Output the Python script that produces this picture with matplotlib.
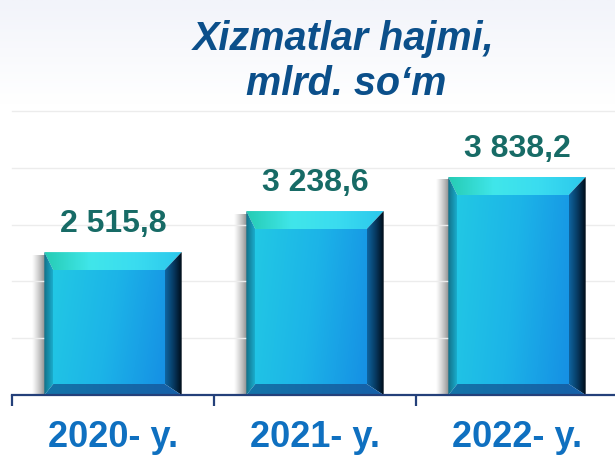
import matplotlib.pyplot as plt
import numpy as np
from matplotlib.patches import Polygon
from matplotlib.colors import LinearSegmentedColormap

years = ['2020- y.', '2021- y.', '2022- y.']
values = [2515.8, 3238.6, 3838.2]
value_labels = ['2 515,8', '3 238,6', '3 838,2']
title_lines = ['Xizmatlar hajmi,', 'mlrd. so\u2018m']

W, H = 615, 458
fig = plt.figure(figsize=(W / 100, H / 100), dpi=100)

# faint bluish wash at the top of the slide
bg = fig.add_axes([0, 0, 1, 1], zorder=-5)
g = np.linspace(0, 1, 200).reshape(-1, 1)
bg_cmap = LinearSegmentedColormap.from_list(
    'bg', [(0, '#f2f4fa'), (0.22, '#ffffff'), (1, '#ffffff')])
bg.imshow(g, cmap=bg_cmap, aspect='auto', extent=[0, 1, 1, 0])
bg.axis('off')

ax = fig.add_axes([12 / W, 63 / H, 606 / W, 284 / H])
ax.patch.set_alpha(0)
ax.set_xlim(-0.5, 2.5)
ax.set_ylim(0, 5000)
x = np.arange(len(years))

for s in ['top', 'right', 'left']:
    ax.spines[s].set_visible(False)
ax.spines['bottom'].set_color('#24407a')
ax.spines['bottom'].set_linewidth(1.6)
ax.spines['bottom'].set_zorder(6)

ax.set_yticks([1000, 2000, 3000, 4000, 5000])
ax.tick_params(axis='y', length=0, labelleft=False)
ax.grid(axis='y', color='#ececec', linewidth=1)
for gl in ax.get_ygridlines():
    gl.set_clip_on(False)

ax.set_xticks(x)
ax.set_xticklabels([])
ax.tick_params(axis='x', which='major', length=0)
ax.set_xticks(np.arange(len(years) + 1) - 0.5, minor=True)
ax.tick_params(axis='x', which='minor', length=8, width=1.6, color='#24407a', direction='out')

bars = ax.bar(x, values, width=0.68, color='none', zorder=2)

# pixel -> data conversion for bevel sizes
ax_w_px = 606
ax_h_px = 284
px = 3.0 / ax_w_px
py = 5000.0 / ax_h_px


def clip_img(data, extent, cmap, poly, z):
    im = ax.imshow(data, cmap=cmap, extent=extent, aspect='auto',
                   origin='lower', zorder=z, interpolation='bilinear')
    p = Polygon(poly, closed=True, facecolor='none', edgecolor='none')
    ax.add_patch(p)
    im.set_clip_path(p)


face_cmap = LinearSegmentedColormap.from_list('face', ['#22c8e4', '#1cb4e8', '#1690e4'])
top_cmap = LinearSegmentedColormap.from_list('top', ['#26ccb4', '#40e6ea', '#3adcf0', '#2cc8ec'])
right_cmap = LinearSegmentedColormap.from_list('right', ['#0f64a0', '#073a62', '#000c18'])
left_cmap = LinearSegmentedColormap.from_list('left', ['#127088', '#1aaccc'])
bottom_cmap = LinearSegmentedColormap.from_list('bot', ['#1474a8', '#1660a8'])
shadow_cmap = LinearSegmentedColormap.from_list(
    'sh', [(0.6, 0.6, 0.6, 0.0), (0.45, 0.45, 0.45, 0.8)])

for rect in bars:
    x0 = rect.get_x()
    x1 = x0 + rect.get_width()
    h = rect.get_height()
    t, r, b, l = 18 * py, 17 * px, 11 * py, 9 * px

    # soft grey shadow on the left side
    sh = np.linspace(0, 1, 50).reshape(1, -1)
    ax.imshow(sh, cmap=shadow_cmap, extent=[x0 - 12 * px, x0 + 1 * px, 0, h - 3 * py],
              aspect='auto', origin='lower', zorder=1, interpolation='bilinear')

    # front face
    fx = np.linspace(0, 1, 80)
    fy = np.linspace(0, 1, 80)
    face = fx[None, :] * 0.85 + (1 - fy[:, None]) * 0.15
    clip_img(face, [x0 + l, x1 - r, b, h - t], face_cmap,
             [(x0 + l, b), (x1 - r, b), (x1 - r, h - t), (x0 + l, h - t)], 3)

    # top bevel
    tg = np.linspace(0, 1, 80).reshape(1, -1)
    clip_img(tg, [x0, x1, h - t, h], top_cmap,
             [(x0, h), (x1, h), (x1 - r, h - t), (x0 + l, h - t)], 3)

    # right bevel
    rg = np.linspace(0, 1, 60).reshape(1, -1)
    clip_img(rg, [x1 - r, x1, 0, h], right_cmap,
             [(x1, h), (x1, 0), (x1 - r, b), (x1 - r, h - t)], 3)

    # left bevel
    lg = np.linspace(0, 1, 40).reshape(1, -1)
    clip_img(lg, [x0, x0 + l, 0, h], left_cmap,
             [(x0, 0), (x0, h), (x0 + l, h - t), (x0 + l, b)], 3)

    # bottom bevel
    bg_ = np.linspace(0, 1, 60).reshape(1, -1)
    clip_img(bg_, [x0, x1, 0, b], bottom_cmap,
             [(x0, 0), (x1, 0), (x1 - r, b), (x0 + l, b)], 3)

for xi, v, lab in zip(x, values, value_labels):
    ax.annotate(lab, (xi, v), xytext=(0, 14.5), textcoords='offset points',
                ha='center', va='baseline', fontsize=23, fontweight='bold',
                color='#176b66', family='Liberation Sans')

for xi, yr in zip(x, years):
    ax.text(xi, -52 / ax_h_px, yr, transform=ax.get_xaxis_transform(),
            ha='center', va='baseline', fontsize=26, fontweight='bold',
            color='#0f70c0', family='Liberation Sans')

ax.set_xlim(-0.5, 2.5)
ax.set_ylim(0, 5000)

fig.text(344 / W, 1 - 50 / H, title_lines[0], ha='center', va='baseline',
         fontsize=28.5, fontweight='bold', fontstyle='italic',
         color='#0b4f8a', family='Liberation Sans')
fig.text(346 / W, 1 - 95 / H, title_lines[1], ha='center', va='baseline',
         fontsize=28.5, fontweight='bold', fontstyle='italic',
         color='#0b4f8a', family='Liberation Sans')

fig.savefig('out.png', dpi=100)
